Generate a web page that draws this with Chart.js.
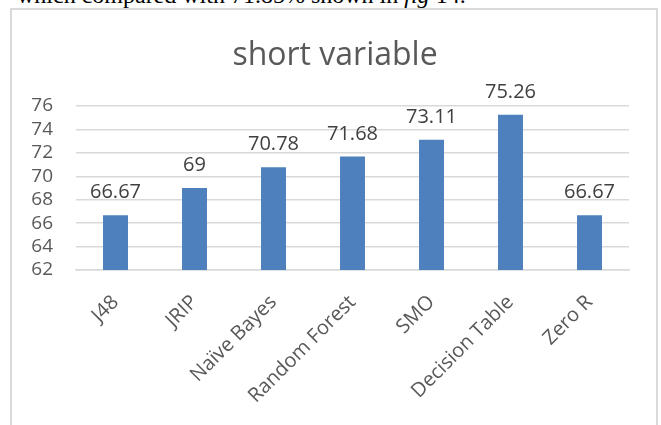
<!DOCTYPE html>
<html>
<head>
<meta charset="utf-8">
<script src="https://cdn.jsdelivr.net/npm/chart.js@4.4.0/dist/chart.umd.min.js"></script>
<style>
  html, body { margin: 0; padding: 0; background: #fff; overflow: hidden; width: 661px; height: 425px; }
  #caption { position: absolute; left: 17px; top: -17px; font: 24px/24px "Liberation Serif", serif; color: #000; white-space: nowrap; }
  #frame { position: absolute; left: 10px; top: 8px; width: 648px; height: 500px; border: 2px solid #d9d9d9; box-sizing: border-box; }
  #wrap { position: absolute; left: 0; top: 0; width: 661px; height: 425px; }
</style>
</head>
<body>
<div id="caption">which compared with 71.85% shown in <i>fig</i> 14.</div>
<div id="frame"></div>
<div id="wrap"><canvas id="c" width="661" height="425"></canvas></div>
<script>
// Classifier accuracy for the "short variable" feature set
const categories = ['J48', 'JRIP', 'Naïve Bayes', 'Random Forest', 'SMO', 'Decision Table', 'Zero R'];
const accuracy = [66.67, 69, 70.78, 71.68, 73.11, 75.26, 66.67];
const yTicks = [62, 64, 66, 68, 70, 72, 74, 76];
const chartTitle = 'short variable';

const FONT = '"Open Sans", "DejaVu Sans", sans-serif';

// Title centred inside the bordered frame
const frameTitle = {
  id: 'frameTitle',
  afterDraw(chart) {
    const ctx = chart.ctx;
    ctx.save();
    ctx.font = '32px ' + FONT;
    ctx.fillStyle = '#595959';
    ctx.textAlign = 'center';
    ctx.textBaseline = 'alphabetic';
    ctx.fillText(chartTitle, 335, 65);
    ctx.restore();
  }
};

// Value labels above each bar, positioned from the bar elements
const valueLabels = {
  id: 'valueLabels',
  afterDatasetsDraw(chart) {
    const ctx = chart.ctx;
    const meta = chart.getDatasetMeta(0);
    ctx.save();
    ctx.font = '20px ' + FONT;
    ctx.fillStyle = '#404040';
    ctx.textAlign = 'center';
    ctx.textBaseline = 'alphabetic';
    meta.data.forEach((bar, i) => {
      ctx.fillText(String(accuracy[i]), bar.x, bar.y - 17);
    });
    ctx.restore();
  }
};

function draw() {
  new Chart(document.getElementById('c'), {
    type: 'bar',
    data: {
      labels: categories,
      datasets: [{
        data: accuracy,
        backgroundColor: '#4e80bd',
        barPercentage: 0.316,
        categoryPercentage: 1
      }]
    },
    plugins: [valueLabels, frameTitle],
    options: {
      responsive: false,
      animation: false,
      layout: { padding: { left: 12, right: 32, top: 106, bottom: 0 } },
      plugins: {
        legend: { display: false },
        tooltip: { enabled: false },
        title: { display: false }
      },
      scales: {
        x: {
          grid: { display: false },
          border: { display: true, color: '#d9d9d9', width: 1.5 },
          ticks: {
            color: '#595959',
            font: { family: FONT, size: 20, lineHeight: 1 },
            minRotation: 45,
            maxRotation: 45,
            autoSkip: false,
            padding: 14
          },
          afterFit(s) { s.height = 155; }
        },
        y: {
          min: 62,
          max: 76,
          border: { display: false },
          grid: { color: '#d9d9d9', lineWidth: 1.5, drawTicks: false },
          ticks: {
            color: '#595959',
            font: { family: FONT, size: 19 },
            padding: 23,
            autoSkip: false
          },
          afterBuildTicks(s) { s.ticks = yTicks.map(v => ({ value: v })); },
          afterFit(s) { s.width = 64; }
        }
      }
    }
  });
}

Promise.all([
  document.fonts.load('20px "Open Sans"'),
  document.fonts.load('32px "Open Sans"'),
  document.fonts.load('24px "Liberation Serif"')
]).then(draw, draw);
</script>
</body>
</html>
